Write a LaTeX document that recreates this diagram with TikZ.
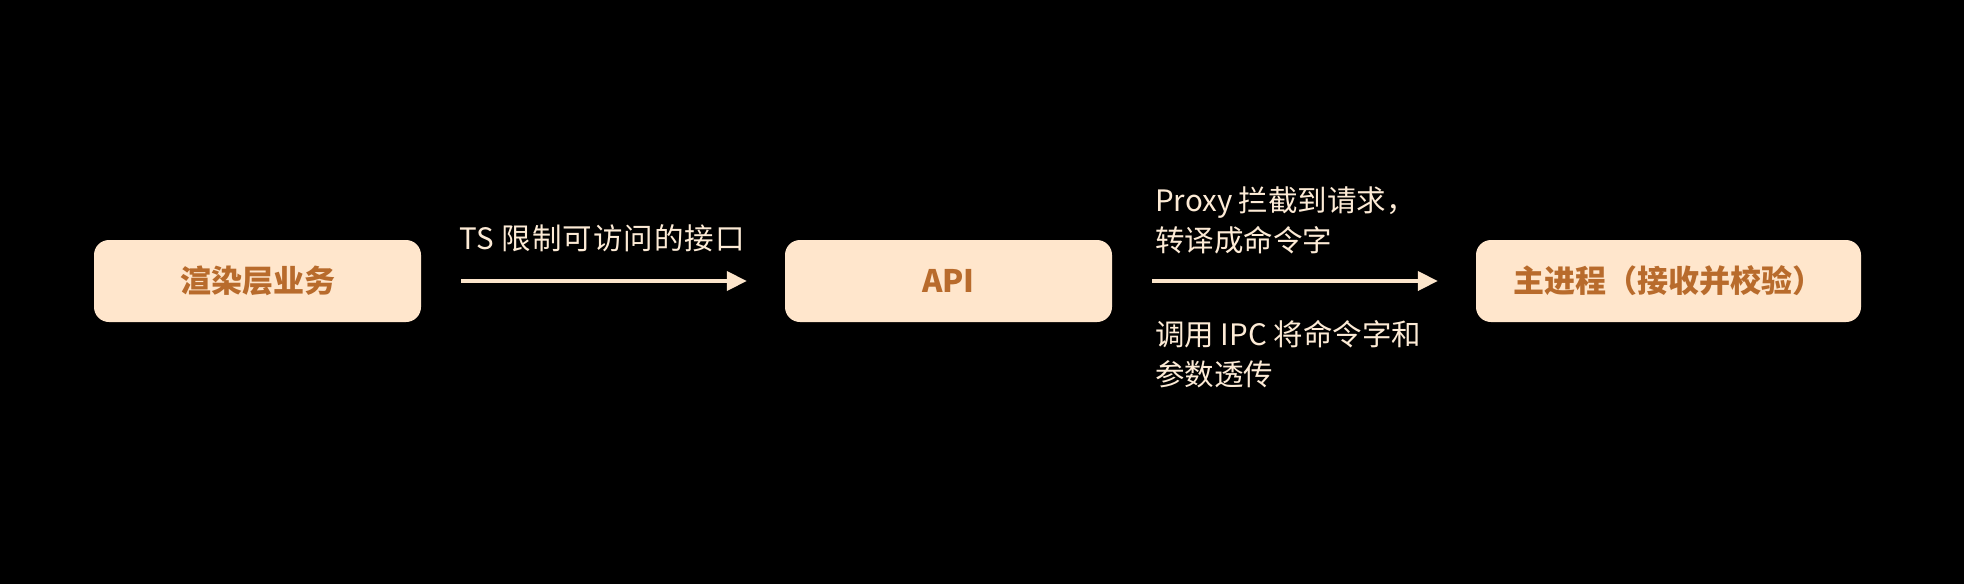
\documentclass[tikz,border=0pt]{standalone}
\usepackage{fontspec}
\newfontfamily\cjk{Noto Sans CJK SC}
\newfontfamily\cjkwide{Noto Sans CJK SC}[LetterSpace=3.5]
\usetikzlibrary{arrows.meta}
\definecolor{boxfill}{HTML}{FFE6CC}
\definecolor{boxtext}{HTML}{B86B2C}
\definecolor{arrowcol}{HTML}{FCE5CB}
\definecolor{labelcol}{HTML}{FDEBD6}
\tikzset{
  procbox/.style={draw=none, fill=boxfill, rounded corners=15pt, minimum height=82pt,
    inner sep=0pt, text=boxtext, font=\cjk\bfseries\fontsize{31}{36}\selectfont},
  flowarrow/.style={draw=arrowcol, line width=4pt, -{Triangle[length=20pt,width=19pt]},
    shorten <=40pt, shorten >=38pt},
  flowlabel/.style={text=labelcol, inner sep=0pt, anchor=base west,
    font=\cjk\fontsize{29.5}{40}\selectfont},
}
\begin{document}
\begin{tikzpicture}[x=1pt,y=-1pt]
  \fill[black] (0,0) rectangle (1964,584);
  \useasboundingbox (0,0) rectangle (1964,584);
  \node[procbox, minimum width=327pt] (render) at (257.5,281) {渲染层业务};
  \node[procbox, minimum width=327pt] (api) at (948.5,281) {API};
  \node[procbox, minimum width=385pt] (main) at (1668.5,281) {主进程（接收并校验）};
  \draw[flowarrow] (render.east) -- (api.west);
  \draw[flowarrow] (api.east) -- (main.west);
  \node[flowlabel, font=\cjkwide\fontsize{29.5}{40}\selectfont] (tslabel) at (459,249) {TS 限制可访问的接口};
  \node[flowlabel] (proxy1) at (1155,211) {Proxy 拦截到请求，};
  \node[flowlabel] (proxy2) at (1155,251) {转译成命令字};
  \node[flowlabel] (ipc1) at (1155,345) {调用 IPC 将命令字和};
  \node[flowlabel] (ipc2) at (1155,385) {参数透传};
\end{tikzpicture}
\end{document}
